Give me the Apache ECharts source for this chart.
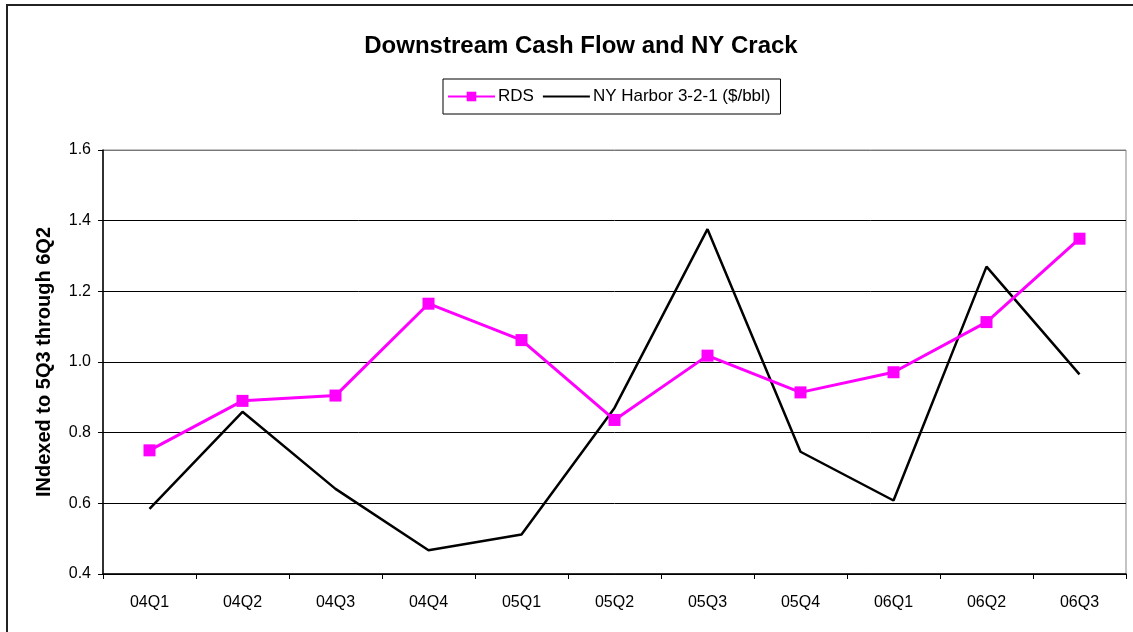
<!DOCTYPE html>
<html>
<head>
<meta charset="utf-8">
<script src="https://cdn.jsdelivr.net/npm/echarts@6/dist/echarts.min.js"></script>
<style>
  html, body { margin: 0; padding: 0; background: #fff; }
  #chart { width: 1133px; height: 632px; }
</style>
</head>
<body>
<div id="chart"></div>
<script>
// quarters on the x axis
const quarters = ['04Q1', '04Q2', '04Q3', '04Q4', '05Q1', '05Q2', '05Q3', '05Q4', '06Q1', '06Q2', '06Q3']
// RDS downstream cash flow, indexed
const rdsValues = [0.75, 0.89, 0.905, 1.165, 1.062, 0.836, 1.018, 0.914, 0.971, 1.113, 1.349]
// NY Harbor 3-2-1 crack, indexed
const crackValues = [0.584, 0.859, 0.641, 0.467, 0.512, 0.870, 1.376, 0.746, 0.608, 1.270, 0.965]

const font = 'Liberation Sans, Arial, sans-serif'
const chart = echarts.init(document.getElementById('chart'))

chart.setOption({
  backgroundColor: '#fff',
  animation: false,
  title: {
    text: 'Downstream Cash Flow and NY Crack',
    left: 576,
    top: 29,
    textAlign: 'center',
    textStyle: { fontFamily: font, fontSize: 24, fontWeight: 'bold', color: '#000' },
  },
  legend: {
    top: 79,
    left: 443,
    padding: [9, 10, 9, 4],
    borderColor: '#000',
    borderWidth: 1,
    itemWidth: 47,
    itemHeight: 12,
    itemGap: 8,
    data: [
      { name: 'RDS' },
      { name: 'NY Harbor 3-2-1 ($/bbl)', itemStyle: { opacity: 0 } },
    ],
    textStyle: { fontFamily: font, fontSize: 17, color: '#000', padding: [0, 0, 0, -2] },
  },
  grid: {
    left: 103,
    right: 7,
    top: 150,
    bottom: 58,
    show: true,
    borderColor: '#888',
    borderWidth: 1,
  },
  xAxis: {
    type: 'category',
    data: quarters,
    boundaryGap: true,
    axisLine: { lineStyle: { color: '#000', width: 1.5 } },
    axisTick: { show: true, length: 5, lineStyle: { color: '#000' } },
    axisLabel: { fontFamily: font, fontSize: 16, color: '#000', margin: 21 },
  },
  yAxis: {
    type: 'value',
    min: 0.4,
    max: 1.6,
    interval: 0.2,
    name: 'INdexed to 5Q3 through 6Q2',
    nameLocation: 'middle',
    nameGap: 49,
    nameTextStyle: { fontFamily: font, fontSize: 20, fontWeight: 'bold', color: '#000' },
    axisLine: { show: true, lineStyle: { color: '#000', width: 1.5 } },
    axisTick: { show: true, length: 5, lineStyle: { color: '#000' } },
    axisLabel: {
      fontFamily: font, fontSize: 16, color: '#000', margin: 12,
      formatter: (v) => v.toFixed(1),
    },
    splitLine: {
      lineStyle: { color: ['#000', '#000', '#000', '#000', '#000', '#000', '#777'], width: 1 },
    },
  },
  series: [
    {
      name: 'RDS',
      type: 'line',
      data: rdsValues,
      symbol: 'rect',
      symbolSize: 12,
      itemStyle: { color: '#ff00ff' },
      lineStyle: { color: '#ff00ff', width: 3 },
      z: 3,
    },
    {
      name: 'NY Harbor 3-2-1 ($/bbl)',
      type: 'line',
      data: crackValues,
      symbol: 'none',
      itemStyle: { color: '#000' },
      lineStyle: { color: '#000', width: 2.5 },
      z: 2,
    },
  ],
  graphic: [
    {
      type: 'rect',
      shape: { x: 7, y: 5, width: 1160, height: 660 },
      style: { fill: 'none', stroke: '#222', lineWidth: 2 },
      silent: true,
    },
  ],
})
</script>
</body>
</html>
